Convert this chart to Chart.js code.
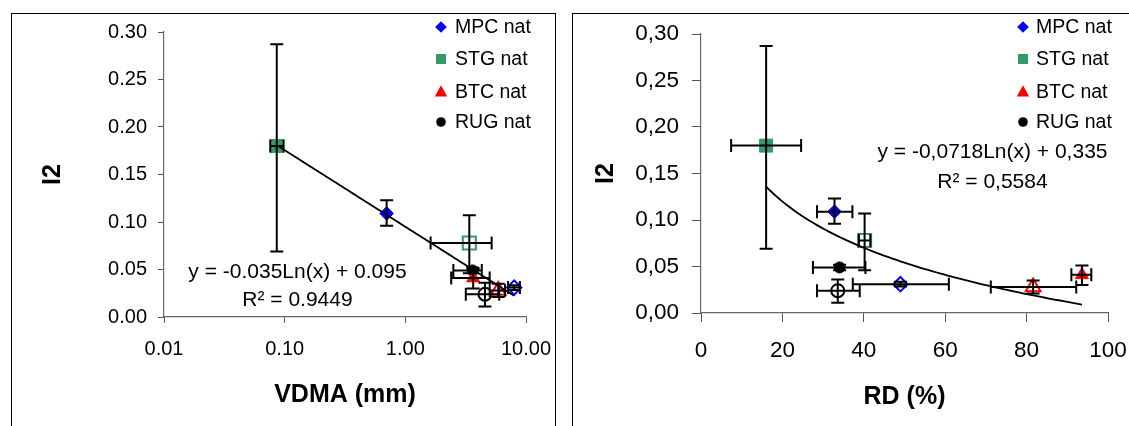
<!DOCTYPE html>
<html>
<head>
<meta charset="utf-8">
<script src="https://cdn.jsdelivr.net/npm/chart.js@4/dist/chart.umd.min.js"></script>
<style>
  html, body { margin: 0; padding: 0; background: #fff; width: 1129px; height: 426px; overflow: hidden; }
  .frame { position: absolute; border: 1px solid #000; box-sizing: border-box; }
  canvas { position: absolute; }
</style>
</head>
<body>
<div class="frame" style="left:11px;top:13px;width:545px;height:440px"></div>
<div class="frame" style="left:572px;top:13px;width:600px;height:440px"></div>
<canvas id="vdmaChart" width="542" height="412" style="left:12px;top:14px"></canvas>
<canvas id="rdChart" width="556" height="412" style="left:573px;top:14px"></canvas>
<script>
// ---- Series ----
const seriesNames = ['MPC nat', 'STG nat', 'BTC nat', 'RUG nat'];

// I2 per series: solid markers and hollow markers, with error limits
const i2Solid      = [0.109, 0.180, 0.041, 0.049];
const i2SolidLow   = [0.096, 0.069, 0.030, 0.046];
const i2SolidHigh  = [0.123, 0.287, 0.051, 0.052];
const i2Hollow     = [0.031, 0.078, 0.028, 0.024];
const i2HollowLow  = [0.0285, 0.046, 0.021, 0.011];
const i2HollowHigh = [0.0335, 0.107, 0.035, 0.036];

// VDMA (mm)
const vdmaSolid      = [0.70, 0.086, 3.65, 3.61];
const vdmaSolidLow   = [null, 0.076, 2.4, 2.5];
const vdmaSolidHigh  = [null, 0.098, 5.0, 4.3];
const vdmaHollow     = [7.98, 3.39, 5.89, 4.57];
const vdmaHollowLow  = [7.1, 1.62, 5.0, 3.17];
const vdmaHollowHigh = [8.9, 5.19, 6.7, 6.0];

// RD (%)
const rdSolid      = [32.8, 16.0, 93.6, 34.05];
const rdSolidLow   = [28.5, 7.4, 91.0, 27.5];
const rdSolidHigh  = [37.2, 24.6, 95.9, 40.4];
const rdHollow     = [49.0, 40.2, 81.6, 33.6];
const rdHollowLow  = [37.3, 38.8, 71.2, 28.5];
const rdHollowHigh = [60.9, 41.6, 92.2, 39.0];

// Logarithmic fits: y = a*ln(x) + b
const vdmaFit = [-0.035, 0.095];
const rdFit = [-0.0718, 0.335];
const vdmaFitText = ['y = -0.035Ln(x) + 0.095', 'R\u00B2 = 0.9449'];
const rdFitText = ['y = -0,0718Ln(x) + 0,335', 'R\u00B2 = 0,5584'];

// ---- Ticks ----
const i2Ticks = [0, 0.05, 0.10, 0.15, 0.20, 0.25, 0.30];
const i2TickLabelsDot = ['0.00', '0.05', '0.10', '0.15', '0.20', '0.25', '0.30'];
const i2TickLabelsComma = ['0,00', '0,05', '0,10', '0,15', '0,20', '0,25', '0,30'];
const vdmaTicks = [0.01, 0.1, 1, 10];
const vdmaTickLabels = ['0.01', '0.10', '1.00', '10.00'];
const rdTicks = [0, 20, 40, 60, 80, 100];
const rdTickLabels = ['0', '20', '40', '60', '80', '100'];

// ---- Styling ----
const FONT = "'Liberation Sans', Arial, Helvetica, sans-serif";
const colors = ['#0000ff', '#339966', '#ff0000', '#000000'];
const shapes = ['rectRot', 'rect', 'triangle', 'circle'];
const solidRadius = [6.8, 9.2, 7.5, 5.5];
const hollowRadius = [7.2, 9.2, 8.5, 6.5];

function markerSets(xs, xLo, xHi, hollow) {
  const ys = hollow ? i2Hollow : i2Solid;
  const yLo = hollow ? i2HollowLow : i2SolidLow;
  const yHi = hollow ? i2HollowHigh : i2SolidHigh;
  return seriesNames.map((name, i) => ({
    label: name,
    hollow: hollow,
    data: [{ x: xs[i], y: ys[i], xLo: xLo[i], xHi: xHi[i], yLo: yLo[i], yHi: yHi[i] }],
    pointStyle: shapes[i],
    pointRadius: hollow ? hollowRadius[i] : solidRadius[i],
    pointBackgroundColor: hollow ? 'rgba(0,0,0,0)' : colors[i],
    pointBorderColor: colors[i],
    pointBorderWidth: hollow ? 2 : 1,
    showLine: false
  }));
}

function fitLine(fit, xs, logSpaced) {
  const lo = Math.min(...xs), hi = Math.max(...xs);
  const pts = [];
  const n = 80;
  for (let k = 0; k <= n; k++) {
    const t = k / n;
    const x = logSpaced ? Math.exp(Math.log(lo) + t * (Math.log(hi) - Math.log(lo))) : lo + t * (hi - lo);
    pts.push({ x: x, y: fit[0] * Math.log(x) + fit[1] });
  }
  return {
    label: 'fit',
    data: pts,
    showLine: true,
    pointRadius: 0,
    borderColor: '#000',
    borderWidth: 1.8,
    tension: 0
  };
}

// Error bars drawn through the chart scales
const errorBarPlugin = {
  id: 'errorBars',
  afterDatasetsDraw(chart, args, opts) {
    const { ctx } = chart;
    const xs = chart.scales.x, ys = chart.scales.y;
    const c = opts.cap;
    ctx.save();
    ctx.strokeStyle = '#000';
    ctx.lineWidth = opts.width;
    ctx.beginPath();
    chart.data.datasets.forEach(ds => {
      ds.data.forEach(p => {
        if (p.yLo === undefined) return;
        const px = xs.getPixelForValue(p.x), py = ys.getPixelForValue(p.y);
        if (p.yLo != null && p.yHi != null) {
          const y1 = ys.getPixelForValue(p.yLo), y2 = ys.getPixelForValue(p.yHi);
          ctx.moveTo(px, y1); ctx.lineTo(px, y2);
          ctx.moveTo(px - c, y1); ctx.lineTo(px + c, y1);
          ctx.moveTo(px - c, y2); ctx.lineTo(px + c, y2);
        }
        if (p.xLo != null && p.xHi != null) {
          const x1 = xs.getPixelForValue(p.xLo), x2 = xs.getPixelForValue(p.xHi);
          ctx.moveTo(x1, py); ctx.lineTo(x2, py);
          ctx.moveTo(x1, py - c); ctx.lineTo(x1, py + c);
          ctx.moveTo(x2, py - c); ctx.lineTo(x2, py + c);
        }
      });
    });
    ctx.stroke();
    ctx.restore();
  }
};

function drawShape(ctx, shape, x, y, r) {
  ctx.beginPath();
  if (shape === 'rectRot') {
    ctx.moveTo(x, y - r); ctx.lineTo(x + r, y); ctx.lineTo(x, y + r); ctx.lineTo(x - r, y);
  } else if (shape === 'rect') {
    ctx.rect(x - r, y - r, 2 * r, 2 * r);
  } else if (shape === 'triangle') {
    const h = r * 1.8;
    ctx.moveTo(x, y - h * 0.6); ctx.lineTo(x + r, y + h * 0.4); ctx.lineTo(x - r, y + h * 0.4);
  } else {
    ctx.arc(x, y, r, 0, Math.PI * 2);
  }
  ctx.closePath();
  ctx.fill();
}

// Legend and fit equation drawn on top of the plot
const notesPlugin = {
  id: 'notes',
  afterDraw(chart, args, opts) {
    const { ctx } = chart;
    ctx.save();
    ctx.fillStyle = '#000';
    ctx.textBaseline = 'middle';
    ctx.font = opts.legendFont;
    const legendR = [5.8, 5, 6.2, 4.8];
    seriesNames.forEach((name, i) => {
      ctx.fillStyle = colors[i];
      drawShape(ctx, shapes[i], opts.markerX, opts.legendY[i], legendR[i]);
      ctx.fillStyle = '#000';
      ctx.textAlign = 'left';
      ctx.fillText(name, opts.textX, opts.legendY[i] + 1);
    });
    ctx.font = opts.eqFont;
    ctx.textAlign = 'center';
    opts.eqText.forEach((t, i) => ctx.fillText(t, opts.eqX, opts.eqY[i]));
    ctx.restore();
  }
};

function axisCommon(tickFont, tickLen, pad) {
  return {
    grid: { drawOnChartArea: false, drawTicks: true, tickLength: tickLen, color: '#555', lineWidth: 1 },
    border: { display: true, color: '#666', width: 1.2 },
    ticks: { color: '#000', font: { family: FONT, size: tickFont }, padding: pad, autoSkip: false, maxRotation: 0, minRotation: 0 }
  };
}

// Plot area is set by layout padding alone; labels may overhang it
function noOverhang(s) {
  s.paddingLeft = 0; s.paddingRight = 0; s.paddingTop = 0; s.paddingBottom = 0;
}

function buildChart(id, cfg) {
  const xBase = axisCommon(cfg.xTickFont, cfg.tickLen, cfg.xPad);
  const yBase = axisCommon(cfg.yTickFont, cfg.tickLen, cfg.yPad);
  return new Chart(document.getElementById(id), {
    type: 'scatter',
    data: {
      datasets: [fitLine(cfg.fit, cfg.fitXs, cfg.logX)]
        .concat(markerSets(cfg.solid, cfg.solidLo, cfg.solidHi, false))
        .concat(markerSets(cfg.hollow, cfg.hollowLo, cfg.hollowHi, true))
    },
    options: {
      responsive: false,
      animation: false,
      events: [],
      layout: { padding: { left: 0, right: cfg.padRight, top: cfg.padTop, bottom: 0 } },
      plugins: {
        legend: { display: false },
        tooltip: { enabled: false },
        errorBars: { width: 2, cap: 6.5 },
        notes: cfg.notes
      },
      scales: {
        x: Object.assign(xBase, {
          type: cfg.logX ? 'logarithmic' : 'linear',
          min: cfg.xTicks[0],
          max: cfg.xTicks[cfg.xTicks.length - 1],
          afterBuildTicks: s => { s.ticks = cfg.xTicks.map(v => ({ value: v })); },
          afterFit: s => { s.height = cfg.xHeight; noOverhang(s); },
          ticks: Object.assign(xBase.ticks, { callback: (v, i) => cfg.xLabels[i] }),
          title: { display: true, text: cfg.xTitle, color: '#000', font: { family: FONT, size: 25, weight: 'bold' }, padding: { top: 0, bottom: cfg.xTitlePad } }
        }),
        y: Object.assign(yBase, {
          type: 'linear',
          min: 0,
          max: 0.3,
          afterBuildTicks: s => { s.ticks = i2Ticks.map(v => ({ value: v })); },
          afterFit: s => { s.width = cfg.yWidth; noOverhang(s); },
          ticks: Object.assign(yBase.ticks, { callback: (v, i) => cfg.yLabels[i] }),
          title: { display: true, text: 'I2', color: '#000', font: { family: FONT, size: 25, weight: 'bold' }, padding: { top: cfg.yTitlePad, bottom: 0 } }
        })
      }
    },
    plugins: [errorBarPlugin, notesPlugin]
  });
}

buildChart('vdmaChart', {
  logX: true,
  fit: vdmaFit,
  fitXs: vdmaSolid.concat(vdmaHollow),
  solid: vdmaSolid, solidLo: vdmaSolidLow, solidHi: vdmaSolidHigh,
  hollow: vdmaHollow, hollowLo: vdmaHollowLow, hollowHi: vdmaHollowHigh,
  xTicks: vdmaTicks, xLabels: vdmaTickLabels, yLabels: i2TickLabelsDot,
  xTitle: 'VDMA (mm)',
  xTickFont: 20, yTickFont: 20, tickLen: 6, xPad: 14, yPad: 11,
  padRight: 28, padTop: 18, xHeight: 109, yWidth: 152,
  xTitlePad: 16, yTitlePad: 26,
  notes: {
    legendFont: '19.5px ' + FONT, markerX: 429, textX: 443, legendY: [13, 45, 78, 108],
    eqFont: '21px ' + FONT, eqText: vdmaFitText, eqX: 285.5, eqY: [258, 286]
  }
});

buildChart('rdChart', {
  logX: false,
  fit: rdFit,
  fitXs: rdSolid.concat(rdHollow),
  solid: rdSolid, solidLo: rdSolidLow, solidHi: rdSolidHigh,
  hollow: rdHollow, hollowLo: rdHollowLow, hollowHi: rdHollowHigh,
  xTicks: rdTicks, xLabels: rdTickLabels, yLabels: i2TickLabelsComma,
  xTitle: 'RD (%)',
  xTickFont: 22.5, yTickFont: 22.5, tickLen: 9, xPad: 15, yPad: 13,
  padRight: 21, padTop: 20, xHeight: 113, yWidth: 128,
  xTitlePad: 14, yTitlePad: 18,
  notes: {
    legendFont: '19.5px ' + FONT, markerX: 450, textX: 463, legendY: [13, 45, 78, 108],
    eqFont: '21px ' + FONT, eqText: rdFitText, eqX: 419.5, eqY: [138, 168]
  }
});
</script>
</body>
</html>
